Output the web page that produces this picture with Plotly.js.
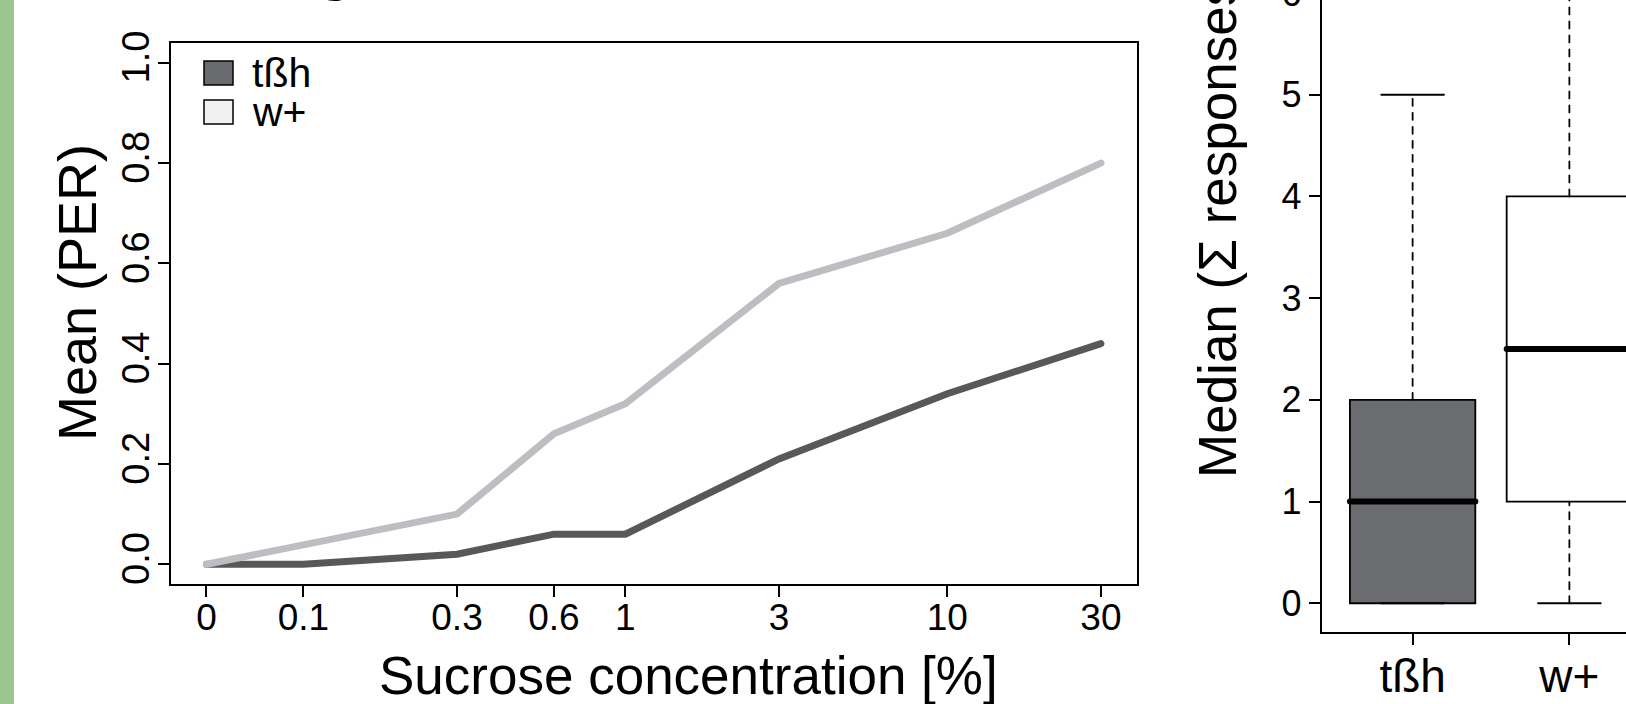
<!DOCTYPE html>
<html><head><meta charset="utf-8">
<script src="https://cdn.plot.ly/plotly-3.0.1.min.js"></script>
<style>
html,body{margin:0;padding:0;overflow:hidden;background:#fff;width:1626px;height:704px;}
#chart{position:absolute;left:0;top:-160px;width:1700px;height:900px;}
.scatterlayer .js-line{stroke-linecap:round;}
</style></head><body><div id="chart"></div>
<script>
// ---- data ----
const concLabels = ['0', '0.1', '0.3', '0.6', '1', '3', '10', '30'];      // sucrose concentration [%]
const concPlot   = [0.05, 0.1, 0.3, 0.6, 1, 3, 10, 30];                    // 0 % is drawn at the 0.05 slot of the log axis
const meanTbh    = [0, 0, 0.02, 0.06, 0.06, 0.21, 0.34, 0.44];             // Mean (PER), tßh
const meanWplus  = [0, 0.04, 0.10, 0.26, 0.32, 0.56, 0.66, 0.80];          // Mean (PER), w+
const groups     = ['tßh', 'w+'];
const boxLower   = [0, 0];
const boxQ1      = [0, 1];
const boxMedian  = [1, 2.5];
const boxQ3      = [2, 4];
const boxUpper   = [5, 7];
const yTicksLeft  = [0, 0.2, 0.4, 0.6, 0.8, 1.0];
const yTicksRight = [0, 1, 2, 3, 4, 5, 6, 7];

// ---- styling ----
const FONT = 'Liberation Sans, Arial, Helvetica, sans-serif';
const lineColors = ['#58585a', '#bdbec2'];
const legendFill = ['#6a6b6f', '#f1f1f3'];
const boxFill = ['#6b6c70', '#ffffff'];
const W = 1700, H = 900, OY = 160;
const px = x => x / W;
const py = y => (H - (y + OY)) / H;

const traces = [
  {type: 'scatter', mode: 'lines', name: groups[0], x: concPlot, y: meanTbh,
   line: {color: lineColors[0], width: 7}, xaxis: 'x', yaxis: 'y', showlegend: false},
  {type: 'scatter', mode: 'lines', name: groups[1], x: concPlot, y: meanWplus,
   line: {color: lineColors[1], width: 7}, xaxis: 'x', yaxis: 'y', showlegend: false}
];

const boxW = 0.8;
groups.forEach((g, i) => {
  const c = i + 1;
  // dashed whiskers
  traces.push({type: 'scatter', mode: 'lines', x: [c, c, null, c, c],
    y: [boxQ3[i], boxUpper[i], null, boxLower[i], boxQ1[i]],
    line: {color: '#000', width: 1.8, dash: '7px,7px'}, xaxis: 'x2', yaxis: 'y2', showlegend: false, hoverinfo: 'skip'});
  // staples
  traces.push({type: 'scatter', mode: 'lines', x: [c - boxW / 4, c + boxW / 4, null, c - boxW / 4, c + boxW / 4],
    y: [boxUpper[i], boxUpper[i], null, boxLower[i], boxLower[i]],
    line: {color: '#000', width: 1.8}, xaxis: 'x2', yaxis: 'y2', showlegend: false, hoverinfo: 'skip'});
  // box
  traces.push({type: 'box', name: g, x: [c], q1: [boxQ1[i]], median: [boxMedian[i]], q3: [boxQ3[i]],
    lowerfence: [boxQ1[i]], upperfence: [boxQ3[i]], width: boxW, whiskerwidth: 0,
    fillcolor: boxFill[i], line: {color: '#000', width: 1.8}, xaxis: 'x2', yaxis: 'y2', showlegend: false});
  // thick median
  traces.push({type: 'scatter', mode: 'lines', x: [c - boxW / 2, c + boxW / 2], y: [boxMedian[i], boxMedian[i]],
    line: {color: '#000', width: 6}, xaxis: 'x2', yaxis: 'y2', showlegend: false, hoverinfo: 'skip'});
});

const axBase = {showgrid: false, zeroline: false, showline: true, linecolor: '#000', linewidth: 2,
  ticks: 'outside', ticklen: 11, tickwidth: 2, tickcolor: '#000'};

const layout = {
  width: W, height: H, margin: {l: 0, r: 0, t: 0, b: 0},
  paper_bgcolor: '#fff', plot_bgcolor: '#fff',
  font: {family: FONT, color: '#000'},
  showlegend: false,
  xaxis: Object.assign({}, axBase, {type: 'log', domain: [px(170.7), px(1136.7)], range: [-1.41215, 1.58824],
    tickmode: 'array', tickvals: concPlot, ticktext: concLabels, mirror: true, anchor: 'y',
    ticklabelstandoff: -12,
    tickfont: {size: 37, family: FONT, color: '#000'}}),
  yaxis: Object.assign({}, axBase, {domain: [py(584.3), py(42.7)], range: [-0.04, 1.04],
    tickmode: 'array', tickvals: yTicksLeft, tickformat: '.1f', tickangle: -90, mirror: true, anchor: 'x',
    ticklabelstandoff: -6,
    tickfont: {size: 38, family: FONT, color: '#000'}}),
  xaxis2: Object.assign({}, axBase, {domain: [px(1321.7), px(1660.3)], range: [0.42, 2.58],
    tickmode: 'array', tickvals: [1, 2], ticktext: groups, anchor: 'y2', mirror: true,
    ticklabelstandoff: -8,
    tickfont: {size: 46, family: FONT, color: '#000'}}),
  yaxis2: Object.assign({}, axBase, {domain: [py(631.7), py(-137.1)], range: [-0.28, 7.28],
    tickmode: 'array', tickvals: yTicksRight, anchor: 'x2', mirror: true,
    tickfont: {size: 36, family: FONT, color: '#000'}}),
  shapes: [
    {type: 'rect', xref: 'paper', yref: 'paper', x0: 0, x1: px(14), y0: py(704), y1: py(0),
     fillcolor: '#9cc68f', line: {width: 0}, layer: 'below'},
    {type: 'rect', xref: 'paper', yref: 'paper', x0: px(204), x1: px(233), y0: py(85), y1: py(61),
     fillcolor: legendFill[0], line: {color: '#000', width: 1.5}},
    {type: 'rect', xref: 'paper', yref: 'paper', x0: px(204), x1: px(233), y0: py(124), y1: py(100),
     fillcolor: legendFill[1], line: {color: '#000', width: 1.5}}
  ],
  annotations: [
    {text: 'Mean (PER)', xref: 'paper', yref: 'paper', x: px(77), y: py(293), textangle: -90,
     showarrow: false, xanchor: 'center', yanchor: 'middle', font: {size: 54, family: FONT, color: '#000'}},
    {text: 'Sucrose concentration [%]', xref: 'paper', yref: 'paper', x: px(688), y: py(675),
     showarrow: false, xanchor: 'center', yanchor: 'middle', font: {size: 53, family: FONT, color: '#000'}},
    {text: 'Median (Σ responses)', xref: 'paper', yref: 'paper', x: px(1217), y: py(220), textangle: -90,
     showarrow: false, xanchor: 'center', yanchor: 'middle', font: {size: 53, family: FONT, color: '#000'}},
    {text: groups[0], xref: 'paper', yref: 'paper', x: px(250), y: py(73),
     showarrow: false, xanchor: 'left', yanchor: 'middle', font: {size: 41, family: FONT, color: '#000'}},
    {text: groups[1], xref: 'paper', yref: 'paper', x: px(250), y: py(112),
     showarrow: false, xanchor: 'left', yanchor: 'middle', font: {size: 41, family: FONT, color: '#000'}},
    {text: '<b>g</b>', xref: 'paper', yref: 'paper', x: px(335), y: py(-31),
     showarrow: false, xanchor: 'center', yanchor: 'middle', font: {size: 60, family: FONT, color: '#000'}}
  ]
};

Plotly.newPlot('chart', traces, layout, {displayModeBar: false, staticPlot: true});
</script></body></html>
